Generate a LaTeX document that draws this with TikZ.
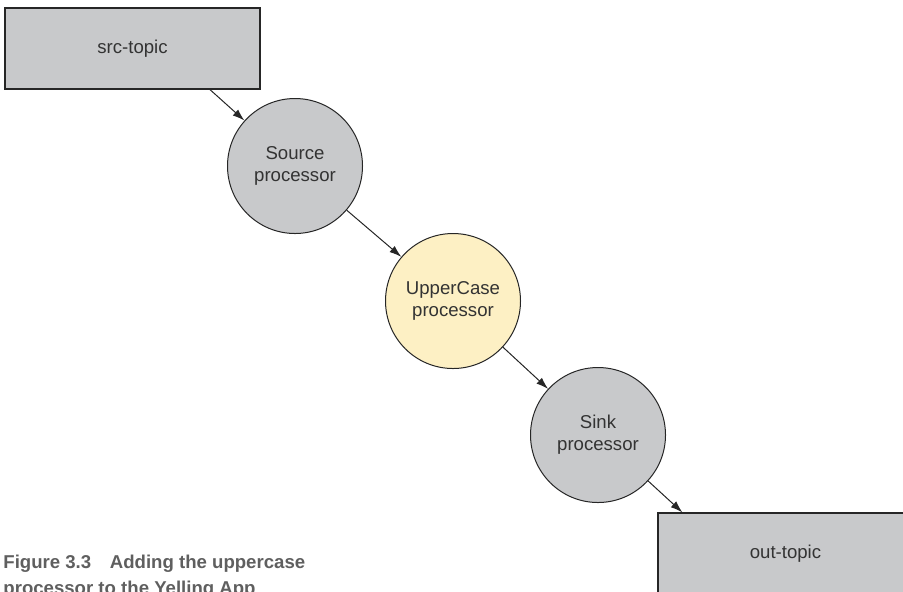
\documentclass[tikz,border=0pt]{standalone}
\usepackage{fontspec}
\setmainfont{Liberation Sans}
\usetikzlibrary{arrows.meta}

\definecolor{topicgray}{HTML}{C8C9CB}
\definecolor{procyellow}{HTML}{FDF0C4}
\definecolor{inkgray}{HTML}{333333}
\definecolor{capgray}{HTML}{5F5F5F}

\begin{document}
\begin{tikzpicture}[x=0.5pt,y=-0.5pt,
    topic/.style={draw=black!85,line width=0.6pt,fill=topicgray,minimum width=127.5pt,minimum height=40.5pt,
      text=inkgray,font=\fontsize{9.3}{11}\selectfont},
    proc/.style={circle,draw=black!85,line width=0.5pt,fill=topicgray,minimum size=67.5pt,inner sep=0pt,
      align=center,text=inkgray,font=\fontsize{9.3}{11}\selectfont},
    flow/.style={-{Latex[length=6pt,width=4pt]},line width=0.5pt,black!85}]
  \useasboundingbox (0,0) rectangle (903,591);
  \node[topic] (src) at (132.5,48.5) {src-topic};
  \node[proc] (source) at (295,166) {Source\\processor};
  \node[proc,fill=procyellow] (upper) at (453,301) {UpperCase\\processor};
  \node[proc] (sink) at (598,435) {Sink\\processor};
  \node[topic] (out) at (785.5,553.5) {out-topic};
  \draw[flow] ([xshift=38.75pt]src.south) -- (source);
  \draw[flow] (source) -- (upper);
  \draw[flow] (upper) -- (sink);
  \draw[flow] (sink) -- ([xshift=12.5pt]out.north west);
  % caption
  \node[anchor=north west,inner sep=0pt,align=left,text=capgray,
    font=\fontsize{9.3}{13}\selectfont\bfseries] (caption) at (3,555)
    {Figure 3.3\quad Adding the uppercase\\processor to the Yelling App};
\end{tikzpicture}
\end{document}
